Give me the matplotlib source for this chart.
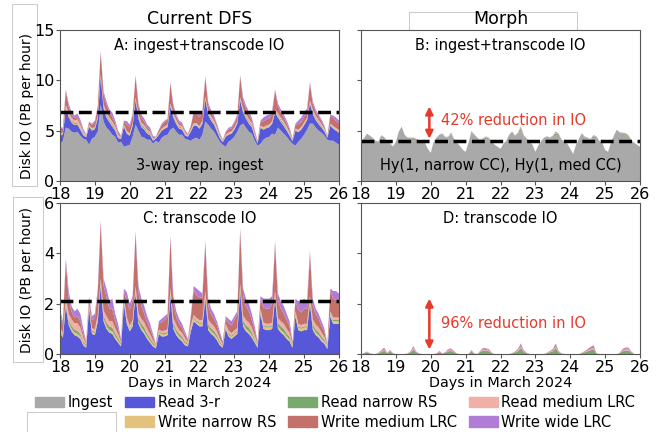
import matplotlib
matplotlib.use("Agg")
import matplotlib.pyplot as plt
from matplotlib.patches import Patch, Rectangle
import numpy as np

# --- Data: disk IO in PB per hour, one sample every 2 hours, 18 -> 26 March 2024 ---
hours = np.arange(0, 194, 2)
days = 18 + hours / 24

# Current DFS: ingest (3-way replication)
ingest_dfs = [
    3.6, 4.0, 5.3, 5.2, 4.9, 4.8, 4.9, 4.5, 4.2, 4.1, 3.6, 4.2,
    4.4, 4.9, 7.6, 5.9, 5.3, 5.0, 4.6, 4.4, 3.8, 3.9, 3.4, 3.5,
    3.6, 4.4, 5.6, 5.0, 4.4, 4.3, 4.1, 4.1, 3.7, 4.0, 3.8, 4.3,
    4.5, 4.6, 5.1, 5.3, 4.9, 4.6, 4.6, 4.2, 4.1, 4.0, 4.2, 4.3,
    4.1, 4.6, 5.9, 5.6, 5.2, 4.9, 4.4, 3.9, 3.6, 3.4, 3.9, 4.1,
    4.4, 4.9, 5.5, 5.7, 5.3, 4.9, 4.7, 4.0, 3.5, 3.7, 4.1, 4.3,
    4.4, 4.7, 4.6, 5.3, 5.0, 4.7, 4.4, 4.0, 3.7, 3.5, 3.9, 4.2,
    4.6, 5.1, 5.7, 5.7, 5.3, 5.0, 4.8, 4.5, 4.1, 4.0, 4.0, 3.8,
    3.6,
]

# Current DFS: transcode IO components
read_3r = [
    0.85, 0.65, 1.9, 1.15, 0.9, 0.75, 0.7, 0.6, 0.35, 0.25, 1.8, 0.8,
    0.75, 1.3, 2.7, 1.3, 1.0, 0.85, 0.8, 0.6, 0.45, 0.3, 2.0, 1.2,
    0.9, 1.1, 2.4, 1.2, 0.95, 0.8, 0.6, 0.45, 0.3, 0.22, 0.8, 0.7,
    0.7, 0.75, 2.3, 1.0, 0.75, 0.6, 0.5, 0.35, 0.3, 0.9, 1.3, 1.2,
    1.1, 1.1, 2.2, 0.95, 0.8, 0.7, 0.55, 0.35, 0.25, 1.0, 0.7, 0.6,
    0.7, 0.8, 2.5, 1.1, 0.9, 0.8, 0.65, 0.45, 0.25, 1.6, 1.0, 0.95,
    0.95, 1.0, 2.2, 1.0, 0.85, 0.75, 0.6, 0.5, 0.25, 1.5, 0.95, 0.9,
    0.95, 0.95, 2.0, 0.95, 0.75, 0.65, 0.5, 0.4, 0.2, 1.5, 1.2, 1.2,
    1.2,
]
write_narrow_rs = [
    0.08, 0.07, 0.1, 0.1, 0.1, 0.1, 0.1, 0.1, 0.08, 0.07, 0.1, 0.08,
    0.08, 0.1, 0.1, 0.1, 0.1, 0.1, 0.1, 0.1, 0.08, 0.07, 0.1, 0.1,
    0.08, 0.1, 0.1, 0.1, 0.1, 0.1, 0.1, 0.08, 0.07, 0.05, 0.08, 0.08,
    0.08, 0.08, 0.1, 0.1, 0.1, 0.1, 0.1, 0.08, 0.06, 0.08, 0.1, 0.08,
    0.1, 0.1, 0.1, 0.1, 0.1, 0.1, 0.1, 0.08, 0.06, 0.08, 0.08, 0.08,
    0.08, 0.08, 0.1, 0.1, 0.1, 0.1, 0.1, 0.08, 0.06, 0.1, 0.1, 0.1,
    0.1, 0.1, 0.1, 0.1, 0.1, 0.1, 0.1, 0.08, 0.06, 0.1, 0.1, 0.1,
    0.1, 0.1, 0.1, 0.1, 0.1, 0.1, 0.1, 0.08, 0.05, 0.1, 0.1, 0.1,
    0.1,
]
read_narrow_rs = [
    0.05, 0.04, 0.08, 0.1, 0.12, 0.12, 0.12, 0.1, 0.07, 0.05, 0.05, 0.05,
    0.05, 0.05, 0.08, 0.12, 0.15, 0.15, 0.15, 0.12, 0.1, 0.05, 0.05, 0.05,
    0.05, 0.05, 0.08, 0.12, 0.15, 0.15, 0.12, 0.1, 0.08, 0.04, 0.04, 0.05,
    0.05, 0.05, 0.08, 0.12, 0.12, 0.1, 0.1, 0.08, 0.05, 0.05, 0.05, 0.05,
    0.05, 0.05, 0.08, 0.12, 0.12, 0.12, 0.1, 0.07, 0.04, 0.04, 0.05, 0.05,
    0.05, 0.05, 0.08, 0.12, 0.15, 0.15, 0.12, 0.08, 0.04, 0.05, 0.05, 0.05,
    0.05, 0.05, 0.08, 0.12, 0.15, 0.15, 0.12, 0.1, 0.04, 0.05, 0.05, 0.05,
    0.05, 0.05, 0.08, 0.12, 0.12, 0.12, 0.1, 0.08, 0.03, 0.05, 0.05, 0.05,
    0.05,
]
read_medium_lrc = [
    0.1, 0.08, 0.15, 0.25, 0.25, 0.25, 0.3, 0.25, 0.15, 0.05, 0.05, 0.1,
    0.1, 0.1, 0.12, 0.2, 0.25, 0.2, 0.25, 0.2, 0.15, 0.05, 0.05, 0.1,
    0.1, 0.1, 0.12, 0.2, 0.2, 0.2, 0.18, 0.15, 0.1, 0.03, 0.05, 0.08,
    0.1, 0.1, 0.12, 0.2, 0.2, 0.15, 0.15, 0.12, 0.07, 0.1, 0.1, 0.1,
    0.1, 0.1, 0.12, 0.2, 0.2, 0.18, 0.15, 0.1, 0.05, 0.08, 0.1, 0.1,
    0.1, 0.1, 0.12, 0.2, 0.2, 0.2, 0.18, 0.12, 0.05, 0.05, 0.1, 0.1,
    0.1, 0.1, 0.12, 0.2, 0.2, 0.2, 0.18, 0.15, 0.05, 0.05, 0.1, 0.1,
    0.1, 0.1, 0.12, 0.2, 0.2, 0.18, 0.15, 0.12, 0.04, 0.05, 0.1, 0.1,
    0.1,
]
write_medium_lrc = [
    0.5, 0.35, 1.45, 0.6, 0.3, 0.23, 0.28, 0.25, 0.15, 0.05, 0.25, 0.32,
    0.45, 0.9, 2.2, 1.0, 0.75, 0.5, 0.5, 0.3, 0.22, 0.08, 0.3, 0.65,
    0.62, 0.8, 2.1, 0.8, 0.5, 0.35, 0.25, 0.22, 0.15, 0.04, 0.25, 0.35,
    0.42, 0.5, 2.0, 0.6, 0.3, 0.25, 0.2, 0.15, 0.07, 0.3, 1.0, 0.9,
    0.9, 0.9, 1.9, 0.55, 0.35, 0.3, 0.25, 0.18, 0.07, 0.2, 0.3, 0.3,
    0.42, 0.52, 2.1, 0.8, 0.55, 0.45, 0.3, 0.22, 0.07, 0.4, 0.6, 0.6,
    0.6, 0.75, 1.9, 0.7, 0.5, 0.4, 0.35, 0.27, 0.07, 0.4, 0.55, 0.5,
    0.6, 0.6, 1.7, 0.55, 0.4, 0.35, 0.25, 0.2, 0.05, 0.8, 0.75, 0.7,
    0.7,
]
write_wide_lrc = [
    0.17, 0.11, 0.12, 0.3, 0.23, 0.25, 0.3, 0.3, 0.2, 0.03, 0.05, 0.15,
    0.17, 0.15, 0.1, 0.28, 0.35, 0.3, 0.4, 0.28, 0.2, 0.05, 0.1, 0.35,
    0.25, 0.15, 0.1, 0.28, 0.3, 0.3, 0.25, 0.2, 0.1, 0.02, 0.08, 0.14,
    0.15, 0.12, 0.1, 0.28, 0.23, 0.2, 0.15, 0.12, 0.05, 0.07, 0.15, 0.27,
    0.25, 0.15, 0.1, 0.28, 0.23, 0.2, 0.15, 0.12, 0.03, 0.1, 0.17, 0.17,
    0.15, 0.15, 0.1, 0.28, 0.3, 0.3, 0.25, 0.15, 0.03, 0.1, 0.35, 0.4,
    0.4, 0.3, 0.1, 0.28, 0.3, 0.3, 0.25, 0.2, 0.03, 0.1, 0.35, 0.45,
    0.4, 0.3, 0.1, 0.28, 0.23, 0.2, 0.2, 0.12, 0.03, 0.1, 0.3, 0.35,
    0.25,
]

# Morph: ingest with hybrid codes
ingest_morph = [
    3.9, 4.2, 4.6, 4.5, 4.3, 4.0, 3.9, 4.4, 4.1, 3.9, 3.6, 3.4,
    3.9, 4.9, 5.4, 4.6, 4.3, 4.2, 4.0, 4.1, 4.0, 4.0, 3.8, 3.2,
    2.8, 3.9, 4.3, 4.5, 4.7, 4.3, 4.2, 4.6, 4.1, 3.8, 3.5, 3.1,
    2.9, 3.8, 4.8, 4.6, 4.3, 4.0, 4.0, 4.2, 4.1, 3.9, 3.6, 3.4,
    3.2, 3.7, 4.0, 4.6, 4.9, 4.4, 4.6, 5.0, 4.4, 4.2, 3.9, 3.6,
    2.9, 3.5, 4.0, 4.3, 4.4, 4.2, 4.3, 4.5, 4.6, 4.1, 3.9, 3.7,
    3.2, 2.7, 3.6, 4.2, 4.7, 4.3, 4.1, 3.9, 4.2, 4.4, 4.0, 3.8,
    3.1, 2.9, 3.8, 4.5, 5.1, 4.8, 4.6, 4.5, 4.3, 4.0, 3.8, 3.6,
    3.4,
]

# Morph: transcode IO components (other components are zero)
morph_read_narrow_rs = [
    0, 0.02, 0.06, 0.02, 0, 0, 0.03, 0.08, 0.14, 0.03, 0.1, 0.02,
    0, 0, 0, 0, 0.01, 0.06, 0.18, 0.06, 0.01, 0, 0, 0,
    0, 0, 0.01, 0.07, 0.01, 0.05, 0.11, 0.12, 0.07, 0.01, 0, 0,
    0, 0, 0.09, 0.01, 0, 0.07, 0.14, 0.12, 0.11, 0.03, 0, 0,
    0, 0, 0, 0, 0.02, 0.06, 0.11, 0.24, 0.08, 0.03, 0, 0,
    0, 0, 0, 0, 0.03, 0.07, 0.11, 0.24, 0.07, 0.01, 0, 0,
    0, 0, 0, 0, 0.03, 0.07, 0.11, 0.15, 0.2, 0.02, 0, 0,
    0, 0, 0, 0, 0, 0.03, 0.11, 0.14, 0.14, 0.06, 0, 0,
    0,
]
morph_read_medium_lrc = [
    0, 0, 0.01, 0, 0, 0, 0.01, 0.02, 0.04, 0.01, 0.02, 0,
    0, 0, 0, 0, 0, 0.01, 0.05, 0.01, 0, 0, 0, 0,
    0, 0, 0, 0.02, 0, 0.01, 0.03, 0.03, 0.02, 0, 0, 0,
    0, 0, 0.02, 0, 0, 0.02, 0.04, 0.03, 0.03, 0.01, 0, 0,
    0, 0, 0, 0, 0, 0.01, 0.03, 0.06, 0.02, 0.01, 0, 0,
    0, 0, 0, 0, 0.01, 0.02, 0.03, 0.06, 0.02, 0, 0, 0,
    0, 0, 0, 0, 0.01, 0.02, 0.03, 0.04, 0.05, 0, 0, 0,
    0, 0, 0, 0, 0, 0.01, 0.03, 0.04, 0.04, 0.01, 0, 0,
    0,
]
morph_write_medium_lrc = [
    0, 0.01, 0.02, 0.01, 0, 0, 0.01, 0.03, 0.04, 0.01, 0.02, 0.01,
    0, 0, 0, 0, 0.01, 0.02, 0.05, 0.02, 0.01, 0, 0, 0,
    0, 0, 0.01, 0.02, 0.01, 0.01, 0.03, 0.04, 0.02, 0.01, 0, 0,
    0, 0, 0.03, 0.01, 0, 0.02, 0.04, 0.04, 0.03, 0.01, 0, 0,
    0, 0, 0, 0, 0.01, 0.02, 0.03, 0.07, 0.03, 0.01, 0, 0,
    0, 0, 0, 0, 0.01, 0.02, 0.03, 0.07, 0.02, 0.01, 0, 0,
    0, 0, 0, 0, 0.01, 0.02, 0.03, 0.05, 0.06, 0.01, 0, 0,
    0, 0, 0, 0, 0, 0.01, 0.03, 0.04, 0.04, 0.02, 0, 0,
    0,
]
morph_write_wide_lrc = [
    0, 0, 0.01, 0, 0, 0, 0, 0.02, 0.04, 0, 0.02, 0,
    0, 0, 0, 0, 0, 0.01, 0.04, 0.01, 0, 0, 0, 0,
    0, 0, 0, 0.01, 0, 0.01, 0.03, 0.03, 0.01, 0, 0, 0,
    0, 0, 0.02, 0, 0, 0.01, 0.03, 0.03, 0.03, 0, 0, 0,
    0, 0, 0, 0, 0, 0.01, 0.03, 0.05, 0.02, 0, 0, 0,
    0, 0, 0, 0, 0, 0.01, 0.03, 0.05, 0.01, 0, 0, 0,
    0, 0, 0, 0, 0, 0.01, 0.03, 0.04, 0.05, 0, 0, 0,
    0, 0, 0, 0, 0, 0, 0.03, 0.04, 0.04, 0.01, 0, 0,
    0,
]

# averages drawn as dashed lines
dfs_avg_total = 6.9
morph_avg_total = 4.0
dfs_avg_transcode = 2.1

# --- Style ---
C_INGEST = "#a9a9a9"
C_READ_3R = "#5757d9"
C_W_NARROW_RS = "#e3c27e"
C_R_NARROW_RS = "#79a96c"
C_R_MED_LRC = "#f0b0a6"
C_W_MED_LRC = "#c4716c"
C_W_WIDE_LRC = "#b07dd6"
RED = "#e63a2b"
FRAME = "#555555"
BOX_EDGE = "#cccccc"

transcode_colors = [C_READ_3R, C_W_NARROW_RS, C_R_NARROW_RS, C_R_MED_LRC, C_W_MED_LRC, C_W_WIDE_LRC]
morph_colors = [C_R_NARROW_RS, C_R_MED_LRC, C_W_MED_LRC, C_W_WIDE_LRC]

W, H = 660, 432


def box(x0, y0, x1, y1):
    # rectangle in figure pixel coordinates (y measured from the top)
    return [x0 / W, 1 - y1 / H, (x1 - x0) / W, (y1 - y0) / H]


def light_box(x0, y0, x1, y1):
    l, b, w, h = box(x0, y0, x1, y1)
    fig.add_artist(Rectangle((l, b), w, h, transform=fig.transFigure, zorder=-1,
                             facecolor="white", edgecolor=BOX_EDGE, lw=0.8))


def style_axes(ax, ymax, yticks, show_ylabels):
    ax.set_xlim(18, 26)
    ax.set_ylim(0, ymax)
    ax.set_xticks(range(18, 27))
    ax.set_yticks(yticks)
    ax.tick_params(labelsize=11.5, length=3, color=FRAME, pad=1)
    if not show_ylabels:
        ax.set_yticklabels([])
    for s in ax.spines.values():
        s.set_color(FRAME)


fig = plt.figure(figsize=(6.6, 4.32), dpi=100)
ax_a = fig.add_axes(box(60, 30, 339, 181))
ax_b = fig.add_axes(box(361, 30, 640, 181))
ax_c = fig.add_axes(box(60, 203, 339, 354))
ax_d = fig.add_axes(box(361, 203, 640, 354))

transcode = [read_3r, write_narrow_rs, read_narrow_rs, read_medium_lrc, write_medium_lrc, write_wide_lrc]
morph_transcode = [morph_read_narrow_rs, morph_read_medium_lrc, morph_write_medium_lrc, morph_write_wide_lrc]

# --- A: current DFS, ingest + transcode ---
ax_a.stackplot(days, ingest_dfs, *transcode, colors=[C_INGEST] + transcode_colors, linewidth=0)
ax_a.axhline(dfs_avg_total, color="black", ls="--", lw=2.5)
ax_a.text(0.5, 0.9, "A: ingest+transcode IO", transform=ax_a.transAxes, ha="center", va="center", fontsize=10.5)
ax_a.text(0.5, 0.1, "3-way rep. ingest", transform=ax_a.transAxes, ha="center", va="center", fontsize=10.5)
style_axes(ax_a, 15, [0, 5, 10, 15], True)
ax_a.set_title("Current DFS", fontsize=12.5, pad=4)

# --- B: Morph, ingest + transcode ---
ax_b.stackplot(days, ingest_morph, *morph_transcode, colors=[C_INGEST] + morph_colors, linewidth=0)
ax_b.axhline(morph_avg_total, color="black", ls="--", lw=2.5)
ax_b.annotate("", xy=(19.96, 4.2), xytext=(19.96, 7.4),
              arrowprops=dict(arrowstyle="<|-|>", color=RED, lw=1.8, mutation_scale=11, shrinkA=0, shrinkB=0))
ax_b.text(20.3, 6.0, "42% reduction in IO", color=RED, ha="left", va="center", fontsize=10.5)
ax_b.text(0.5, 0.9, "B: ingest+transcode IO", transform=ax_b.transAxes, ha="center", va="center", fontsize=10.5)
ax_b.text(0.5, 0.1, "Hy(1, narrow CC), Hy(1, med CC)", transform=ax_b.transAxes, ha="center", va="center", fontsize=10.5)
style_axes(ax_b, 15, [0, 5, 10, 15], False)
light_box(409, 12, 577, 31)
ax_b.set_title("Morph", fontsize=12.5, pad=4)

# --- C: current DFS, transcode only ---
ax_c.stackplot(days, *transcode, colors=transcode_colors, linewidth=0)
ax_c.axhline(dfs_avg_transcode, color="black", ls="--", lw=2.5)
ax_c.text(0.5, 0.9, "C: transcode IO", transform=ax_c.transAxes, ha="center", va="center", fontsize=10.5)
style_axes(ax_c, 6, [0, 2, 4, 6], True)
ax_c.set_xlabel("Days in March 2024", fontsize=10.4, labelpad=1)

# --- D: Morph, transcode only ---
ax_d.stackplot(days, *morph_transcode, colors=morph_colors, linewidth=0)
ax_d.annotate("", xy=(19.96, 0.18), xytext=(19.96, 2.2),
              arrowprops=dict(arrowstyle="<|-|>", color=RED, lw=1.8, mutation_scale=11, shrinkA=0, shrinkB=0))
ax_d.text(20.3, 1.2, "96% reduction in IO", color=RED, ha="left", va="center", fontsize=10.5)
ax_d.text(0.5, 0.9, "D: transcode IO", transform=ax_d.transAxes, ha="center", va="center", fontsize=10.5)
style_axes(ax_d, 6, [0, 2, 4, 6], False)
ax_d.set_xlabel("Days in March 2024", fontsize=10.4, labelpad=1)

# --- y labels in light boxes ---
light_box(12, 4, 37, 186)
light_box(13, 197, 43, 362)
fig.text(27 / W, 1 - 106 / H, "Disk IO (PB per hour)", rotation=90, ha="center", va="center", fontsize=10)
fig.text(27 / W, 1 - 280 / H, "Disk IO (PB per hour)", rotation=90, ha="center", va="center", fontsize=10)

# --- legend ---
blank = Patch(facecolor="none", edgecolor="none")
handles = [Patch(color=C_INGEST), blank,
           Patch(color=C_READ_3R), Patch(color=C_W_NARROW_RS),
           Patch(color=C_R_NARROW_RS), Patch(color=C_W_MED_LRC),
           Patch(color=C_R_MED_LRC), Patch(color=C_W_WIDE_LRC)]
labels = ["Ingest", "", "Read 3-r", "Write narrow RS", "Read narrow RS", "Write medium LRC",
          "Read medium LRC", "Write wide LRC"]
light_box(27, 412, 116, 433)
fig.legend(handles, labels, ncol=4, loc="upper left", bbox_to_anchor=(28 / W, 1 - 388 / H),
           frameon=False, fontsize=10.5, borderpad=0, handlelength=2.0, handleheight=0.7,
           handletextpad=0.25, columnspacing=0.8, labelspacing=0.3)

plt.savefig("out.png", dpi=100)
